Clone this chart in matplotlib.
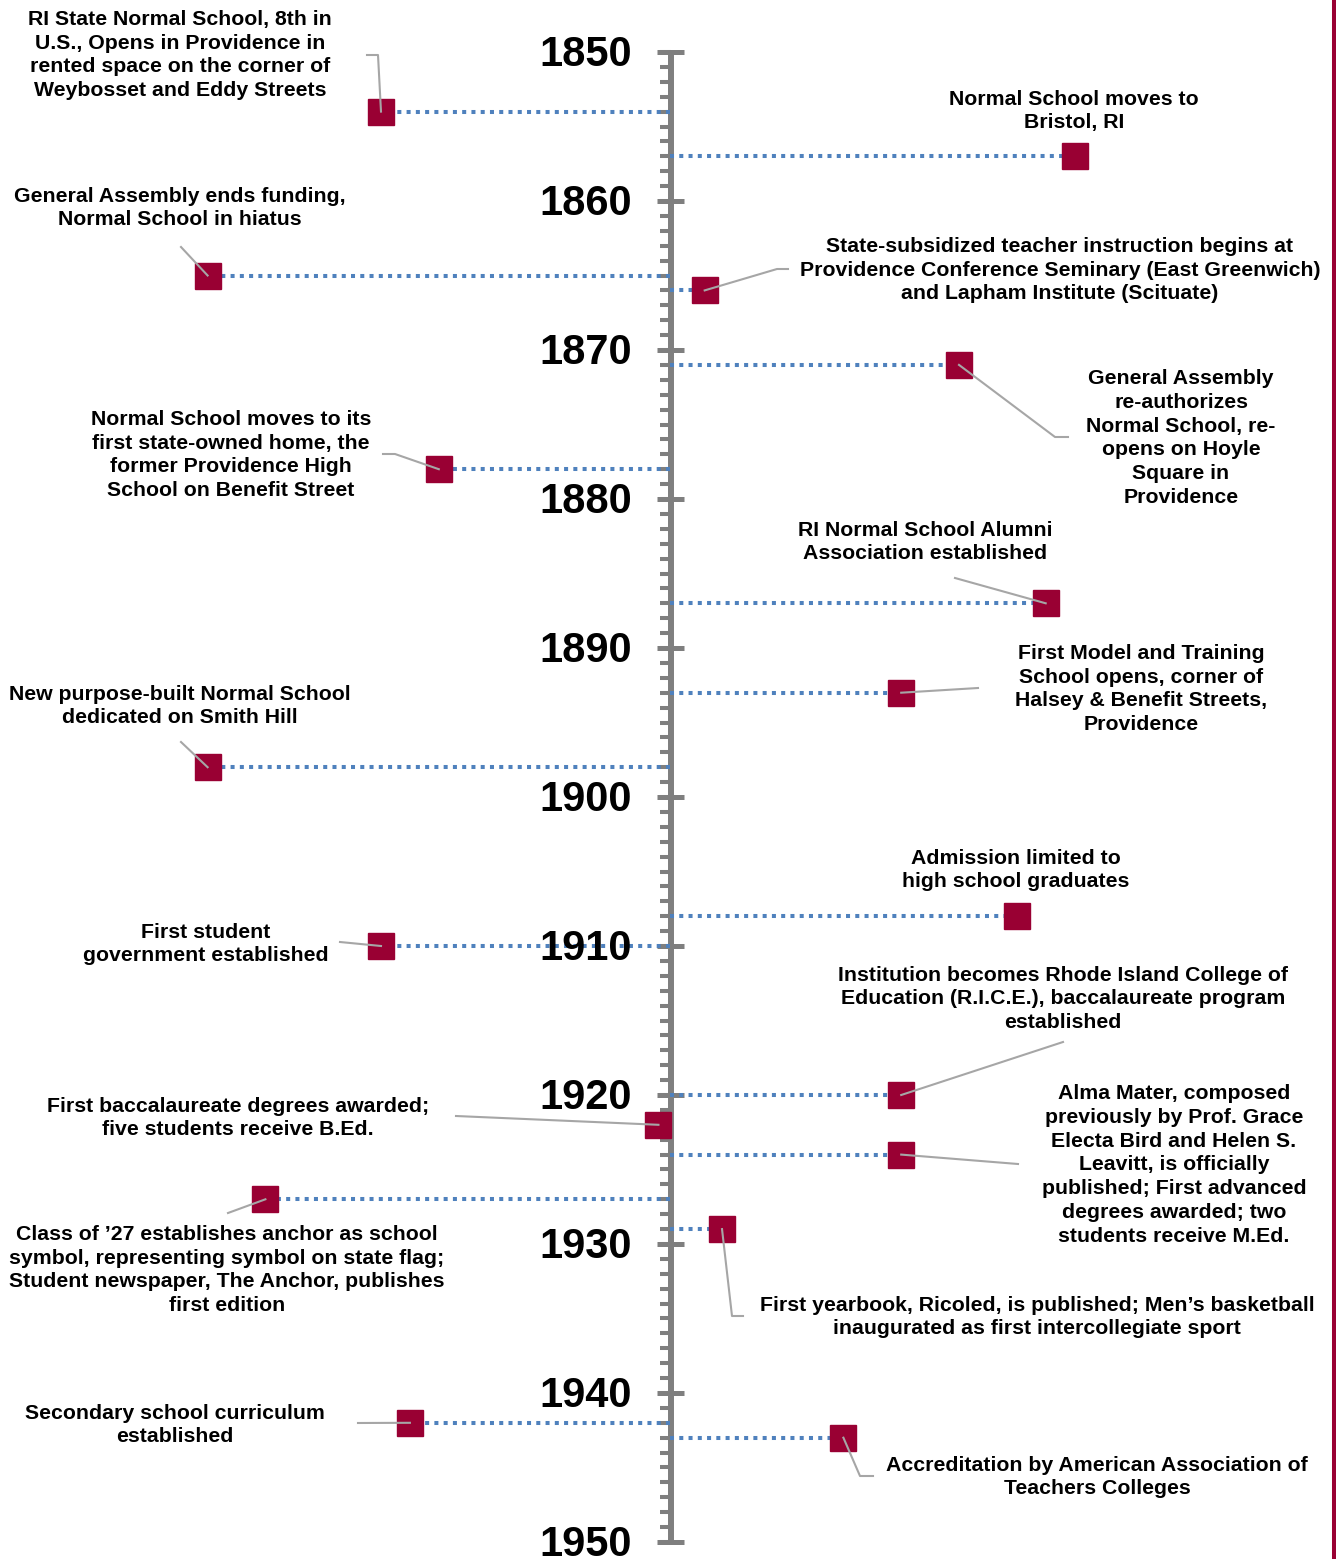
import numpy as np
import matplotlib
matplotlib.use("Agg")
import matplotlib.pyplot as plt

# timeline data
years = [1854, 1857, 1865, 1866, 1871, 1878, 1887, 1893, 1898,
         1908, 1910, 1920, 1922, 1924, 1927, 1929, 1942, 1943]
offsets = [-5, 7, -8, 0.6, 5, -4, 6.5, 4, -8,
           6, -5, 4, -0.2, 4, -7, 0.9, -4.5, 3]
labels = [
    "RI State Normal School, 8th in\nU.S., Opens in Providence in\nrented space on the corner of\nWeybosset and Eddy Streets",
    "Normal School moves to\nBristol, RI",
    "General Assembly ends funding,\nNormal School in hiatus",
    "State-subsidized teacher instruction begins at\nProvidence Conference Seminary (East Greenwich)\nand Lapham Institute (Scituate)",
    "General Assembly\nre-authorizes\nNormal School, re-\nopens on Hoyle\nSquare in\nProvidence",
    "Normal School moves to its\nfirst state-owned home, the\nformer Providence High\nSchool on Benefit Street",
    "RI Normal School Alumni\nAssociation established",
    "First Model and Training\nSchool opens, corner of\nHalsey & Benefit Streets,\nProvidence",
    "New purpose-built Normal School\ndedicated on Smith Hill",
    "Admission limited to\nhigh school graduates",
    "First student\ngovernment established",
    "Institution becomes Rhode Island College of\nEducation (R.I.C.E.), baccalaureate program\nestablished",
    "First baccalaureate degrees awarded;\nfive students receive B.Ed.",
    "Alma Mater, composed\npreviously by Prof. Grace\nElecta Bird and Helen S.\nLeavitt, is officially\npublished; First advanced\ndegrees awarded; two\nstudents receive M.Ed.",
    "Class of \u201927 establishes anchor as school\nsymbol, representing symbol on state flag;\nStudent newspaper, The Anchor, publishes\nfirst edition",
    "First yearbook, Ricoled, is published; Men\u2019s basketball\ninaugurated as first intercollegiate sport",
    "Secondary school curriculum\nestablished",
    "Accreditation by American Association of\nTeachers Colleges",
]
decades = list(range(1850, 1951, 10))

# layout (pixel positions of label centres and leader line bends)
label_xy = [(180, 55), (1074, 111), (180, 208), (1060, 270), (1181, 438),
            (231, 455), (925, 542), (1141, 689), (180, 706), (1016, 870),
            (206, 944), (1063, 999), (238, 1118), (1174, 1165), (227, 1270),
            (1037, 1317), (175, 1425), (1097, 1477)]
leaders = [[(378, 55), (367, 55)], [], [(181, 247)], [(777, 269), (788, 269)],
           [(1055, 437), (1068, 437)], [(395, 454), (383, 454)], [(955, 578)],
           [(978, 688)], [(181, 742)], [], [(340, 942)], [(1063, 1042)],
           [(456, 1116)], [(1018, 1164)], [(228, 1213)],
           [(732, 1316), (743, 1316)], [(358, 1423)], [(860, 1476), (873, 1476)]]

W, H = 1336, 1559
AX0, UNIT = 670, 57.8
Y0, PPY = 52, 14.9


def X(px):
    return (px - AX0) / UNIT


def Y(py):
    return 1850 + (py - Y0) / PPY


plt.rcParams["font.family"] = ["Liberation Sans", "DejaVu Sans"]
plt.rcParams["font.weight"] = "bold"

fig = plt.figure(figsize=(W / 100, H / 100), dpi=100)
ax = fig.add_axes([0, 0, 1, 1])
ax.set_xlim(X(0), X(W))
ax.set_ylim(Y(H), Y(0))
ax.axis("off")

gray = "#7f7f7f"
red = "#990033"
blue = "#4f81bd"

# axis line with ticks
ax.vlines(X(671), 1850, 1950, color=gray, lw=4.3, zorder=3)
ax.hlines(np.arange(1850, 1951), X(660), X(671), color=gray, lw=2.9, zorder=3)
ax.hlines(decades, X(657), X(684), color=gray, lw=3.6, zorder=3)
for d in decades:
    ax.text(X(632), d + 3 / PPY, str(d), ha="right", va="center", fontsize=30,
            fontweight="bold", color="black", zorder=6)

# dotted connectors and markers
for yr, off in zip(years, offsets):
    ax.plot([0, off], [yr, yr], color=blue, lw=2.9, ls=(0, (1, 1.3)),
            dash_capstyle="butt", zorder=4)
ax.plot(offsets, years, ls="none", marker="s", ms=19.4, color=red,
        mec=red, zorder=5)

# leader lines
for yr, off, pts in zip(years, offsets, leaders):
    if not pts:
        continue
    xs = [off] + [X(p[0]) for p in pts]
    ys = [yr] + [Y(p[1]) for p in pts]
    ax.plot(xs, ys, color="#a6a6a6", lw=1.5, zorder=6)

# labels
for (lx, ly), txt in zip(label_xy, labels):
    ax.text(X(lx), Y(ly), txt, ha="center", va="center", multialignment="center",
            fontsize=15.3, fontweight="bold", linespacing=1.33, zorder=7)

# right border
ax.axvline(X(1334), color=red, lw=2.9)

fig.savefig("out.png", dpi=100)
